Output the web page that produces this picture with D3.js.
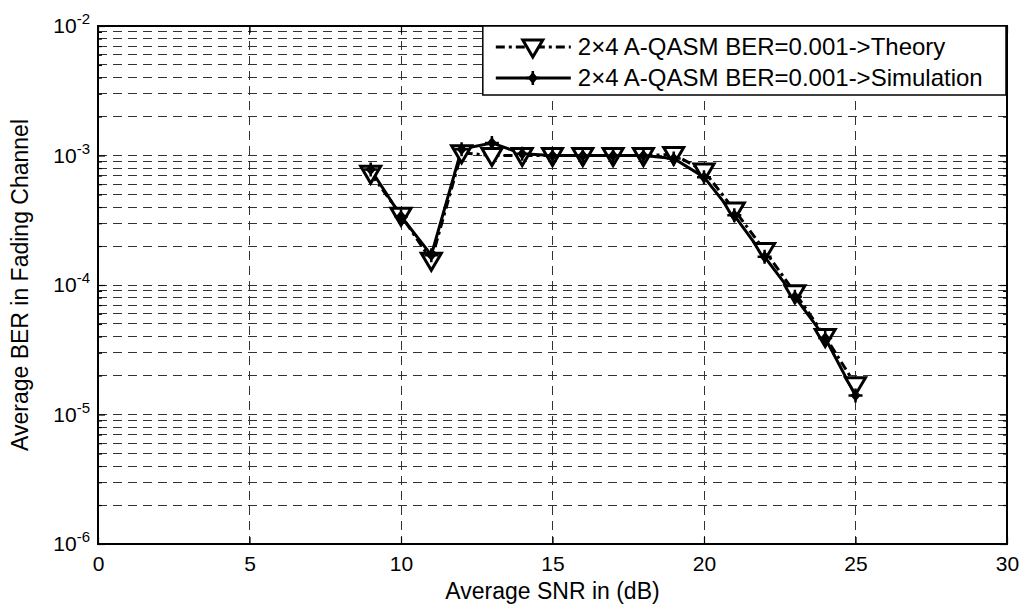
<!DOCTYPE html>
<html>
<head>
<meta charset="utf-8">
<script src="https://cdn.jsdelivr.net/npm/d3@7"></script>
<style>
  body { margin: 0; background: #fff; }
  text { font-family: "Liberation Sans", Arial, sans-serif; fill: #000; }
</style>
</head>
<body>
<div id="chart"></div>
<script>
// data
var snr = [9, 10, 11, 12, 13, 14, 15, 16, 17, 18, 19, 20, 21, 22, 23, 24, 25];
var berTheory = [7.3e-4, 3.45e-4, 1.55e-4, 1.05e-3, 1.0e-3, 1.0e-3, 1.0e-3, 1.0e-3, 1.0e-3, 1.0e-3, 1.02e-3, 7.6e-4, 3.8e-4, 1.85e-4, 8.7e-5, 4.0e-5, 1.7e-5];
var berSim = [7.8e-4, 3.4e-4, 1.7e-4, 1.12e-3, 1.25e-3, 1.03e-3, 1.0e-3, 1.0e-3, 1.0e-3, 1.0e-3, 9.5e-4, 6.8e-4, 3.45e-4, 1.65e-4, 8.1e-5, 3.9e-5, 1.4e-5];
var xTicks = [0, 5, 10, 15, 20, 25, 30];
var yDecades = [-6, -5, -4, -3, -2];
var legendLabels = ["2\u00d74 A-QASM BER=0.001->Theory", "2\u00d74 A-QASM BER=0.001->Simulation"];

var W = 1023, H = 605;
var margin = { top: 26, right: 16, bottom: 61, left: 98 },
    width = W - margin.left - margin.right,
    height = H - margin.top - margin.bottom;

var svg = d3.select('#chart').append('svg')
    .attr('width', W)
    .attr('height', H)
  .append('g')
    .attr('transform', 'translate(' + margin.left + ',' + margin.top + ')');

var x = d3.scaleLinear().domain([0, 30]).range([0, width]);
var y = d3.scaleLog().domain([1e-6, 1e-2]).range([height, 0]);

// minor + major y values
var yMinor = [];
yDecades.slice(0, -1).forEach(function(e) {
  for (var k = 2; k <= 9; k++) yMinor.push(k * Math.pow(10, e));
});
var yMajor = yDecades.map(function(e) { return Math.pow(10, e); });

// grid
var grid = svg.append('g').attr('stroke', '#333').attr('stroke-width', 1)
    .attr('stroke-dasharray', '9,6').attr('shape-rendering', 'crispEdges');
grid.selectAll('line.h')
  .data(yMinor.concat(yMajor.slice(1, -1)))
  .join('line').attr('class', 'h')
    .attr('x1', 0).attr('x2', width)
    .attr('y1', function(d) { return y(d); })
    .attr('y2', function(d) { return y(d); });
grid.selectAll('line.v')
  .data(xTicks.slice(1, -1))
  .join('line').attr('class', 'v')
    .attr('y1', 0).attr('y2', height)
    .attr('x1', function(d) { return x(d); })
    .attr('x2', function(d) { return x(d); });

// axes with inward ticks
var xAxis = svg.append('g')
    .attr('transform', 'translate(0,' + height + ')')
    .call(d3.axisBottom(x).tickValues(xTicks).tickSize(-7).tickPadding(12));
var xTop = svg.append('g')
    .call(d3.axisTop(x).tickValues(xTicks).tickSize(-7).tickFormat(''));
var yAxis = svg.append('g')
    .call(d3.axisLeft(y).tickValues(yMajor).tickSize(-7).tickFormat(''));
var yAxisMinor = svg.append('g')
    .call(d3.axisLeft(y).tickValues(yMinor).tickSize(-4).tickFormat(''));
var yRight = svg.append('g').attr('transform', 'translate(' + width + ',0)')
    .call(d3.axisRight(y).tickValues(yMajor).tickSize(-7).tickFormat(''));
var yRightMinor = svg.append('g').attr('transform', 'translate(' + width + ',0)')
    .call(d3.axisRight(y).tickValues(yMinor).tickSize(-4).tickFormat(''));

svg.selectAll('.domain').remove();
svg.selectAll('.tick line').attr('stroke', '#000').attr('stroke-width', 1.2);
xAxis.selectAll('text').style('font-size', '21px').attr('font-family', null);

// y tick labels as 10^e
svg.selectAll('text.ylab')
  .data(yDecades)
  .join('text').attr('class', 'ylab')
    .attr('x', -8)
    .attr('y', function(e) { return y(Math.pow(10, e)) + 7; })
    .attr('text-anchor', 'end')
    .style('font-size', '21px')
    .each(function(e) {
      var t = d3.select(this);
      t.append('tspan').text('10');
      t.append('tspan').attr('dy', -9).style('font-size', '15px').text(e);
    });

// frame
svg.append('rect')
    .attr('width', width).attr('height', height)
    .attr('fill', 'none').attr('stroke', '#000').attr('stroke-width', 2);

// lines
var line = d3.line()
    .x(function(d) { return x(d[0]); })
    .y(function(d) { return y(d[1]); });

var theory = d3.zip(snr, berTheory);
var sim = d3.zip(snr, berSim);

svg.append('path').datum(sim)
    .attr('d', line).attr('fill', 'none')
    .attr('stroke', '#000').attr('stroke-width', 3);
svg.append('path').datum(theory)
    .attr('d', line).attr('fill', 'none')
    .attr('stroke', '#000').attr('stroke-width', 3)
    .attr('stroke-dasharray', '9,4,3,4');

var tri = 'M-10,-7L10,-7L0,10Z';
function simMarker(g) {
  g.append('path').attr('d', 'M0,-6L5,0L0,6L-5,0Z').attr('fill', '#000');
  g.append('path').attr('d', 'M-7,0H7M0,-7V7').attr('stroke', '#000').attr('stroke-width', 2.5);
}

svg.selectAll('path.tri')
  .data(theory)
  .join('path').attr('class', 'tri')
    .attr('d', tri)
    .attr('transform', function(d) { return 'translate(' + x(d[0]) + ',' + y(d[1]) + ')'; })
    .attr('fill', '#fff').attr('stroke', '#000').attr('stroke-width', 3)
    .attr('stroke-linejoin', 'miter');
svg.selectAll('g.sim')
  .data(sim)
  .join('g').attr('class', 'sim')
    .attr('transform', function(d) { return 'translate(' + x(d[0]) + ',' + y(d[1]) + ')'; })
    .each(function() { simMarker(d3.select(this)); });

// legend
var lg = svg.append('g').attr('transform', 'translate(' + (x(12.7)) + ',0)');
var lgW = width - x(12.7) - 1, lgH = 69;
lg.append('rect').attr('width', lgW).attr('height', lgH)
    .attr('fill', '#fff').attr('stroke', '#000').attr('stroke-width', 1.5);
lg.append('line').attr('x1', 13).attr('x2', 88).attr('y1', 21).attr('y2', 21)
    .attr('stroke', '#000').attr('stroke-width', 3).attr('stroke-dasharray', '9,4,3,4');
lg.append('path').attr('d', tri).attr('transform', 'translate(50,21)')
    .attr('fill', '#fff').attr('stroke', '#000').attr('stroke-width', 3);
lg.append('line').attr('x1', 13).attr('x2', 88).attr('y1', 52).attr('y2', 52)
    .attr('stroke', '#000').attr('stroke-width', 3);
simMarker(lg.append('g').attr('transform', 'translate(50,52)'));
lg.selectAll('text.lg')
  .data(legendLabels)
  .join('text').attr('class', 'lg')
    .attr('x', 95)
    .attr('y', function(d, i) { return 21 + i * 31 + 8; })
    .style('font-size', '24px')
    .text(function(d) { return d; });

// axis labels
svg.append('text')
    .attr('x', width / 2).attr('y', height + 55)
    .attr('text-anchor', 'middle').style('font-size', '23px')
    .text('Average SNR in (dB)');
svg.append('text')
    .attr('transform', 'translate(' + (-70) + ',' + (height / 2) + ') rotate(-90)')
    .attr('text-anchor', 'middle').style('font-size', '23px')
    .text('Average BER in Fading Channel');
</script>
</body>
</html>
